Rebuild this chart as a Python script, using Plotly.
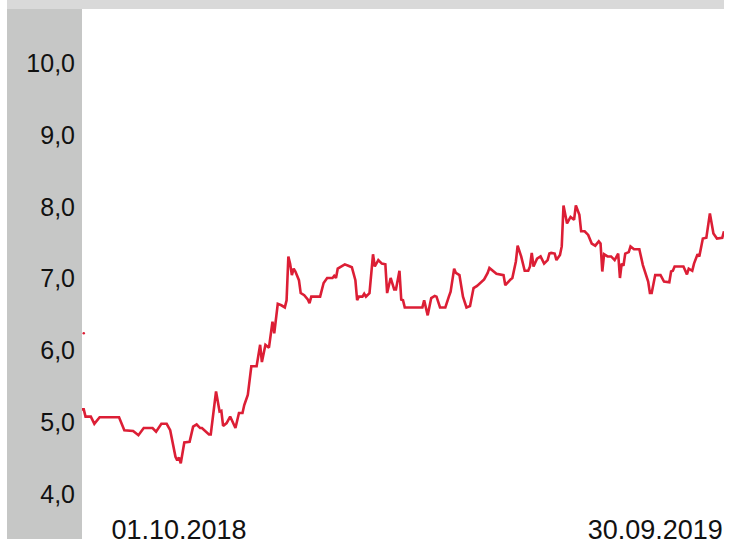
import plotly.graph_objects as go

dates = [
    "2018-10-01", "2018-10-02", "2018-10-03", "2018-10-06", "2018-10-08", "2018-10-11",
    "2018-10-22", "2018-10-25", "2018-10-30", "2018-11-02", "2018-11-05", "2018-11-10",
    "2018-11-12", "2018-11-15", "2018-11-18", "2018-11-20", "2018-11-23", "2018-11-24",
    "2018-11-25", "2018-11-26", "2018-11-28", "2018-12-01", "2018-12-03", "2018-12-05",
    "2018-12-07", "2018-12-08", "2018-12-12", "2018-12-13", "2018-12-16", "2018-12-18",
    "2018-12-19", "2018-12-20", "2018-12-22", "2018-12-24", "2018-12-27", "2018-12-29",
    "2018-12-31", "2019-01-01", "2019-01-03", "2019-01-05", "2019-01-08", "2019-01-10",
    "2019-01-11", "2019-01-13", "2019-01-15", "2019-01-17", "2019-01-18", "2019-01-20",
    "2019-01-22", "2019-01-24", "2019-01-25", "2019-01-26", "2019-01-27", "2019-01-28",
    "2019-01-29", "2019-01-30", "2019-02-01", "2019-02-02", "2019-02-04", "2019-02-06",
    "2019-02-07", "2019-02-08", "2019-02-13", "2019-02-15", "2019-02-17", "2019-02-20",
    "2019-02-21", "2019-02-22", "2019-02-23", "2019-02-25", "2019-02-27", "2019-03-01",
    "2019-03-03", "2019-03-05", "2019-03-06", "2019-03-07", "2019-03-09", "2019-03-10",
    "2019-03-11", "2019-03-13", "2019-03-14", "2019-03-15", "2019-03-16", "2019-03-18",
    "2019-03-20", "2019-03-22", "2019-03-23", "2019-03-25", "2019-03-27", "2019-03-28",
    "2019-03-30", "2019-03-31", "2019-04-01", "2019-04-02", "2019-04-12", "2019-04-13",
    "2019-04-15", "2019-04-17", "2019-04-19", "2019-04-20", "2019-04-22", "2019-04-25",
    "2019-04-27", "2019-04-28", "2019-04-30", "2019-05-01", "2019-05-03", "2019-05-05",
    "2019-05-07", "2019-05-09", "2019-05-11", "2019-05-13", "2019-05-17", "2019-05-19",
    "2019-05-20", "2019-05-21", "2019-05-24", "2019-05-28", "2019-05-29", "2019-06-01",
    "2019-06-02", "2019-06-04", "2019-06-05", "2019-06-07", "2019-06-09", "2019-06-11",
    "2019-06-12", "2019-06-13", "2019-06-14", "2019-06-16", "2019-06-18", "2019-06-20",
    "2019-06-22", "2019-06-23", "2019-06-24", "2019-06-26", "2019-06-27", "2019-06-29",
    "2019-06-30", "2019-07-01", "2019-07-03", "2019-07-05", "2019-07-07", "2019-07-08",
    "2019-07-10", "2019-07-11", "2019-07-13", "2019-07-15", "2019-07-17", "2019-07-19",
    "2019-07-21", "2019-07-22", "2019-07-23", "2019-07-24", "2019-07-26", "2019-07-28",
    "2019-07-30", "2019-08-01", "2019-08-02", "2019-08-03", "2019-08-04", "2019-08-05",
    "2019-08-07", "2019-08-08", "2019-08-10", "2019-08-13", "2019-08-15", "2019-08-18",
    "2019-08-19", "2019-08-20", "2019-08-22", "2019-08-25", "2019-08-27", "2019-08-30",
    "2019-08-31", "2019-09-01", "2019-09-02", "2019-09-07", "2019-09-09", "2019-09-10",
    "2019-09-12", "2019-09-13", "2019-09-15", "2019-09-16", "2019-09-18", "2019-09-20",
    "2019-09-22", "2019-09-24", "2019-09-26", "2019-09-29", "2019-09-30",
]

prices = [
    5.18, 5.18, 5.08, 5.08, 4.98, 5.07,
    5.07, 4.89, 4.88, 4.82, 4.92, 4.92,
    4.87, 4.98, 4.98, 4.89, 4.52, 4.47,
    4.51, 4.43, 4.72, 4.73, 4.94, 4.97,
    4.92, 4.92, 4.83, 4.83, 5.43, 5.15,
    5.16, 4.95, 4.99, 5.08, 4.92, 5.13,
    5.13, 5.24, 5.38, 5.78, 5.78, 6.08,
    5.84, 6.08, 6.04, 6.40, 6.24, 6.65,
    6.63, 6.60, 6.70, 7.31, 7.21, 7.05,
    7.14, 7.10, 6.98, 6.80, 6.77, 6.71,
    6.66, 6.75, 6.75, 6.94, 7.01, 7.01,
    7.04, 7.01, 7.14, 7.17, 7.20, 7.18,
    7.16, 6.98, 6.70, 6.75, 6.75, 6.79,
    6.75, 6.80, 7.08, 7.34, 7.17, 7.26,
    7.21, 7.20, 6.80, 7.01, 6.85, 6.85,
    7.11, 6.71, 6.70, 6.60, 6.60, 6.70,
    6.49, 6.73, 6.76, 6.75, 6.60, 6.60,
    6.75, 6.82, 7.14, 7.08, 7.05, 6.75,
    6.60, 6.62, 6.87, 6.90, 6.99, 7.08,
    7.15, 7.13, 7.07, 7.05, 6.91, 6.99,
    7.01, 7.24, 7.46, 7.31, 7.11, 7.11,
    7.17, 7.36, 7.17, 7.28, 7.31, 7.21,
    7.26, 7.35, 7.36, 7.35, 7.26, 7.33,
    7.45, 8.02, 7.77, 7.86, 7.82, 8.02,
    7.89, 7.66, 7.66, 7.61, 7.49, 7.46,
    7.52, 7.49, 7.10, 7.34, 7.31, 7.31,
    7.26, 7.35, 7.01, 7.21, 7.18, 7.35,
    7.37, 7.45, 7.41, 7.41, 7.19, 6.96,
    6.80, 6.80, 7.05, 7.05, 6.96, 6.95,
    7.10, 7.11, 7.17, 7.17, 7.06, 7.14,
    7.11, 7.21, 7.34, 7.31, 7.56, 7.57,
    7.91, 7.63, 7.56, 7.57, 7.66,
]

y_tick_values = [4, 5, 6, 7, 8, 9, 10]
y_tick_labels = ["4,0", "5,0", "6,0", "7,0", "8,0", "9,0", "10,0"]
x_tick_positions = ["2018-11-25", "2019-08-22"]
x_tick_labels = ["01.10.2018", "30.09.2019"]

stray_date = ["2018-10-02"]
stray_value = [6.24]

LINE_RED = "#dc1e35"
FONT = "Liberation Sans, Arial, Helvetica, sans-serif"

fig = go.Figure()
fig.add_trace(go.Scatter(
    x=dates, y=prices, mode="lines",
    line=dict(color=LINE_RED, width=2.6),
    showlegend=False, hoverinfo="x+y",
))
fig.add_trace(go.Scatter(
    x=stray_date, y=stray_value, mode="markers",
    marker=dict(color=LINE_RED, size=2.5),
    showlegend=False, hoverinfo="skip",
))

W, H = 736, 539
L, R, T, B = 82, 12, 9, 29

# gray bands (paper coordinates, allowed to extend beyond the plot area)
left_x0 = -(L - 7) / (W - L - R)
bottom_y = -B / (H - T - B)
top_y = 1 + T / (H - T - B)
shapes = [
    dict(type="rect", xref="paper", yref="paper", x0=left_x0, x1=0,
         y0=bottom_y, y1=1, fillcolor="#c6c7c6", line=dict(width=0), layer="below"),
    dict(type="rect", xref="paper", yref="paper", x0=left_x0, x1=1,
         y0=1, y1=top_y, fillcolor="#d9d9d9", line=dict(width=0), layer="below"),
]

fig.update_layout(
    width=W, height=H, autosize=False,
    margin=dict(l=L, r=R, t=T, b=B, pad=0),
    paper_bgcolor="white", plot_bgcolor="white",
    font=dict(family=FONT, size=25, color="#111111"),
    shapes=shapes,
    xaxis=dict(
        type="date", range=["2018-10-01", "2019-09-30"],
        showgrid=False, zeroline=False, showline=False, automargin=False,
        tickmode="array", tickvals=x_tick_positions, ticktext=x_tick_labels,
        ticks="", ticklabelstandoff=1,
        tickfont=dict(size=27, color="#111111"),
    ),
    yaxis=dict(
        range=[3.779, 10.756],
        showgrid=False, zeroline=False, showline=False, automargin=False,
        tickmode="array", tickvals=y_tick_values, ticktext=y_tick_labels,
        ticks="outside", ticklen=1, tickcolor="rgba(0,0,0,0)",
        tickfont=dict(size=25, color="#111111"),
    ),
)

fig.write_html(
    "out.html",
    config={"responsive": False, "displayModeBar": False},
    post_script="document.body.style.margin='0';document.body.style.padding='0';",
)
